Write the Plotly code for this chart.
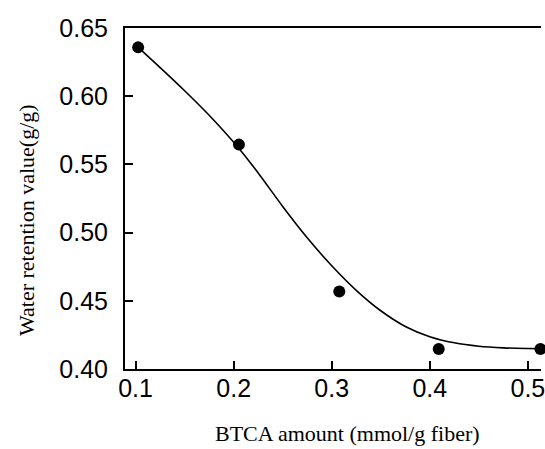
import plotly.graph_objects as go

# measured data points
bt_x = [0.1026, 0.2054, 0.3077, 0.4091, 0.5128]
wrv_y = [0.6358, 0.5645, 0.4568, 0.4147, 0.4147]

# fitted curve
curve_x = [0.1026, 0.125, 0.15, 0.175, 0.2054, 0.225, 0.25, 0.275, 0.30,
           0.325, 0.35, 0.375, 0.40, 0.425, 0.45, 0.475, 0.50, 0.5134]
curve_y = [0.6358, 0.6210, 0.6040, 0.5860, 0.5617, 0.5437, 0.5192, 0.4962, 0.4757,
           0.4577, 0.4427, 0.4312, 0.4237, 0.4192, 0.4167, 0.4155, 0.4150, 0.4149]

x_ticks = [0.1, 0.2, 0.3, 0.4, 0.5]
x_tick_text = ["0.1", "0.2", "0.3", "0.4", "0.5"]
y_ticks = [0.40, 0.45, 0.50, 0.55, 0.60, 0.65]
y_tick_text = ["0.40", "0.45", "0.50", "0.55", "0.60", "0.65"]

x_title = "BTCA amount (mmol/g fiber)"
y_title = "Water retention value(g/g)"

fig = go.Figure()
fig.add_trace(go.Scatter(x=curve_x, y=curve_y, mode="lines",
                         line=dict(color="black", width=1.6, shape="spline", smoothing=1.0),
                         hoverinfo="skip", showlegend=False))
fig.add_trace(go.Scatter(x=bt_x, y=wrv_y, mode="markers",
                         marker=dict(color="black", size=12),
                         showlegend=False, cliponaxis=False))

fig.update_layout(
    width=545, height=449,
    margin=dict(l=125, r=0, t=28, b=80),
    paper_bgcolor="white", plot_bgcolor="white",
    font=dict(family="Liberation Sans, Arial, sans-serif", size=25, color="black"),
    xaxis=dict(range=[0.0892, 0.5134], tickvals=x_ticks, ticktext=x_tick_text,
               showline=True, linecolor="black", linewidth=2, mirror=True,
               ticks="inside", ticklen=8, tickwidth=2, tickcolor="black",
               showgrid=False, zeroline=False, ticklabelstandoff=-4,
               ticklabeloverflow="allow"),
    yaxis=dict(range=[0.40, 0.65], tickvals=y_ticks, ticktext=y_tick_text,
               showline=True, linecolor="black", linewidth=2,
               ticks="inside", ticklen=8, tickwidth=2, tickcolor="black",
               showgrid=False, zeroline=False, ticklabelstandoff=10,
               ticklabeloverflow="allow"),
    annotations=[
        dict(text=x_title, xref="paper", yref="paper", x=(350 - 125) / 420,
             y=-0.19, xanchor="center", yanchor="middle", showarrow=False,
             font=dict(family="Liberation Serif, Times New Roman, serif", size=22)),
        dict(text=y_title, xref="paper", yref="paper", x=(26 - 125) / 420,
             y=(369 - 220) / 341, xanchor="center", yanchor="middle", showarrow=False,
             textangle=-90,
             font=dict(family="Liberation Serif, Times New Roman, serif", size=22)),
    ],
)

fig.write_html("out.html", config={"displayModeBar": False},
               post_script="document.body.style.margin='0px';")
